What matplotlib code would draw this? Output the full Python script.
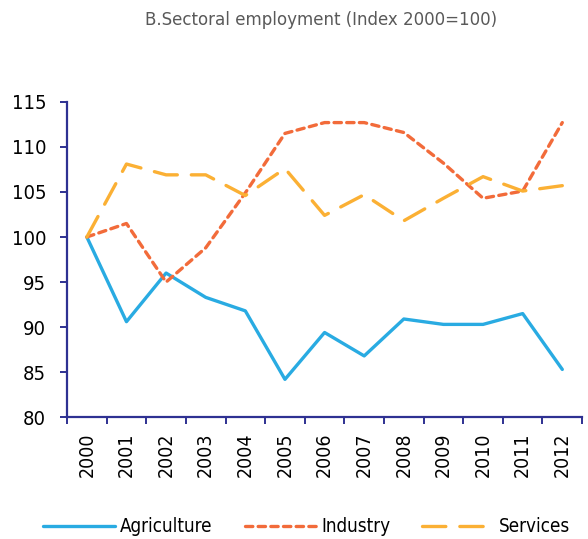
import numpy as np
import matplotlib.pyplot as plt

years = [str(y) for y in range(2000, 2013)]
agriculture = [100, 90.6, 96.0, 93.3, 91.8, 84.2, 89.4, 86.8, 90.9, 90.3, 90.3, 91.5, 85.3]
industry = [100, 101.5, 95.0, 98.8, 104.9, 111.5, 112.7, 112.7, 111.6, 108.2, 104.3, 105.1, 112.7]
services = [100, 108.1, 106.9, 106.9, 104.6, 107.6, 102.4, 104.7, 101.8, 104.3, 106.7, 105.1, 105.7]

plt.rcParams['font.family'] = ['DejaVu Sans']
plt.rcParams['font.stretch'] = 'condensed'

axis_col = '#2E3192'
fig = plt.figure(figsize=(5.88, 5.39), dpi=100)
ax = fig.add_axes([0.114, 0.226, 0.876, 0.585])

x = np.arange(len(years))
ax.plot(x, agriculture, color='#29ABE2', lw=2.4, label='Agriculture', solid_capstyle='round')
ax.plot(x, industry, color='#F26B3A', lw=2.4, dashes=(2.2, 1.6), dash_capstyle='round', label='Industry')
ax.plot(x, services, color='#FBB034', lw=2.4, dashes=(7, 4.2), dash_capstyle='round', label='Services')

ax.set_xlim(-0.5, len(years) - 0.5)
ax.set_ylim(80, 115)
ax.set_yticks(range(80, 116, 5))
ax.set_xticks(x)
ax.set_xticklabels(years, rotation=90)
ax.set_xticks(np.arange(-0.5, len(years)), minor=True)
ax.tick_params(axis='x', which='major', length=0, pad=11, labelsize=14)
ax.tick_params(axis='x', which='minor', length=5, color=axis_col, width=1.4)
ax.tick_params(axis='y', length=5, color=axis_col, width=1.4, labelsize=14.5, pad=10)

for s in ['top', 'right']:
    ax.spines[s].set_visible(False)
for s in ['left', 'bottom']:
    ax.spines[s].set_color(axis_col)
    ax.spines[s].set_linewidth(1.6)

fig.text(0.546, 0.962, 'B.Sectoral employment (Index 2000=100)', ha='center', va='center',
         fontsize=13.3, color='#595959')

fig.legend(loc='center', bbox_to_anchor=(0.522, 0.023), ncol=3, frameon=False,
           fontsize=13.5, handlelength=3.8, columnspacing=1.7, handletextpad=0.3)

fig.savefig('out.png', dpi=100)
